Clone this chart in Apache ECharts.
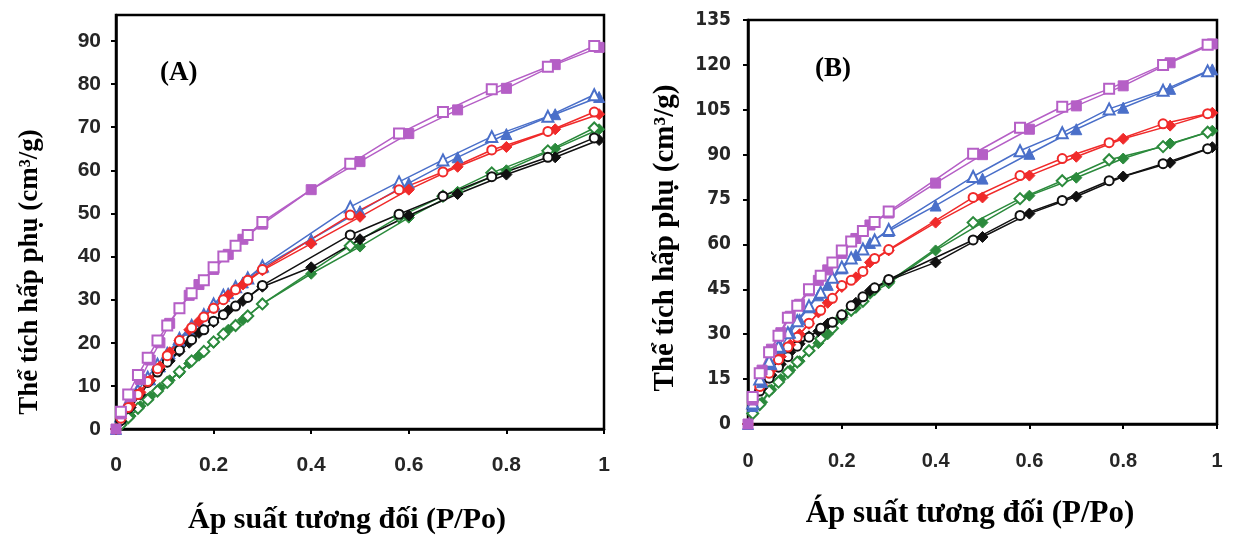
<!DOCTYPE html>
<html>
<head>
<meta charset="utf-8">
<script src="https://cdn.jsdelivr.net/npm/echarts@6/dist/echarts.min.js"></script>
<style>
  html, body { margin: 0; padding: 0; background: #ffffff; }
  #chart { width: 1234px; height: 538px; }
</style>
</head>
<body>
<div id="chart"></div>
<script>
// Relative pressure (P/Po) of the adsorption branch (filled markers)
const pressureAds = [0, 0.01, 0.03, 0.05, 0.07, 0.09, 0.11, 0.13, 0.15, 0.17, 0.2, 0.23, 0.26, 0.3, 0.4, 0.5, 0.6, 0.7, 0.8, 0.9, 0.99];
// Relative pressure of the desorption branch (open markers)
const pressureDes = [0.98, 0.885, 0.77, 0.67, 0.58, 0.48, 0.3, 0.27, 0.245, 0.22, 0.2, 0.18, 0.155, 0.13, 0.105, 0.085, 0.065, 0.045, 0.025, 0.01];

// Panel (A) adsorbed volume, cm3/g
const aPurpleAds = [0, 3.5, 7.5, 11.5, 16, 20, 24.5, 28, 31, 33.5, 37, 40.5, 44, 47.5, 55.5, 62, 68.5, 74, 79, 84.5, 88.5];
const aPurpleDes = [88.8, 84, 78.8, 73.5, 68.5, 61.5, 48, 45, 42.5, 40, 37.5, 34.5, 31.5, 28, 24, 20.5, 16.5, 12.5, 8, 4];
const aBlueAds = [0, 2.5, 5.5, 8.5, 11.5, 14.5, 17.5, 20.5, 23, 25, 28.5, 31.5, 34, 37.5, 44, 50.5, 57, 63, 68.4, 73, 77];
const aBlueDes = [77.5, 72.5, 67.8, 62.4, 57.3, 51.5, 37.8, 35, 33, 31, 29, 26.5, 24, 21, 17.5, 15, 12, 9, 6, 3];
const aRedAds = [0, 2.5, 5.5, 8.5, 11.3, 14.5, 17.8, 20.5, 23, 25, 28, 31, 33.5, 36.8, 43, 49.2, 55.5, 60.8, 65.4, 69.5, 73];
const aRedDes = [73.5, 69, 64.7, 59.6, 55.5, 49.6, 37, 34.5, 32.3, 30, 28, 26, 23.5, 20.5, 17, 14, 11, 8, 5, 2.5];
const aBlackAds = [0, 1.8, 5, 8, 11.2, 13.8, 15.8, 18, 20, 22.3, 24.8, 27.5, 29.7, 33, 37.5, 44, 49.5, 54.5, 59, 63, 67];
const aBlackDes = [67.5, 63, 58.5, 54, 49.8, 45, 33.3, 30.5, 28.5, 26.5, 25, 23, 20.7, 18.3, 15.5, 13.2, 10.8, 8, 4.8, 2];
const aGreenAds = [0, 1, 3, 5.3, 7.5, 9.5, 11.3, 13, 15.2, 17, 20, 23, 25.3, 29, 36, 42.3, 49, 55, 60, 65, 69.5];
const aGreenDes = [69.8, 64.5, 59.4, 54, 49.2, 42.5, 29, 26.2, 24, 22, 20.2, 18, 15.8, 13.3, 10.8, 8.8, 6.8, 4.8, 2.6, 1];

// Panel (B) adsorbed volume, cm3/g
const bPurpleAds = [0, 8, 18, 25, 30.5, 36, 40, 44.5, 48, 51.5, 57, 62, 66.5, 70.5, 80.5, 90, 98.5, 106.3, 113, 120.7, 127];
const bPurpleDes = [126.7, 120, 112, 106, 99, 90.3, 71, 67.5, 64.5, 61, 58, 54, 49.5, 45, 39.5, 35.5, 29.5, 24, 17, 9];
const bBlueAds = [0, 6, 14, 20, 25.5, 30.5, 35, 39, 43, 46.5, 52, 56.5, 60.5, 64.5, 73, 82, 90.3, 98.5, 105.7, 112, 118.5];
const bBlueDes = [118, 111.5, 105.3, 97.3, 91.3, 82.7, 65, 61.5, 58.5, 55.5, 52.5, 49, 44, 39.5, 34.5, 30.5, 26, 21, 15, 7];
const bRedAds = [0, 7, 13, 18, 22.5, 26.5, 30, 33.5, 37.3, 40.5, 45.8, 49, 54, 58, 67.3, 75.7, 83, 89.3, 95.3, 99.7, 104];
const bRedDes = [103.7, 100.3, 94, 88.7, 83, 75.7, 58.3, 55.3, 51, 48, 46.3, 42, 38, 33.7, 29, 25.7, 21.5, 17, 12.5, 7.5];
const bBlackAds = [0, 6, 12, 16.3, 20, 24, 26.8, 29.3, 31, 33.5, 36.3, 40.5, 44.5, 48, 54, 62.5, 70.3, 76, 82.7, 87.3, 92.5];
const bBlackDes = [92, 87, 81.3, 74.7, 69.7, 61.5, 48.3, 45.5, 42.5, 39.5, 36.5, 34, 32, 29, 26, 22.5, 19, 15.3, 11, 6.5];
const bGreenAds = [0, 3.7, 7.3, 11.5, 15, 18, 21, 24.3, 27, 30, 35, 38.8, 43.5, 47, 58, 67.3, 76.3, 82.3, 88.7, 93.7, 98];
const bGreenDes = [97.5, 92.7, 88.3, 81.3, 75.3, 67.3, 47.5, 45, 41, 38, 35.7, 32, 28.5, 24.5, 20.7, 17.3, 14, 11, 6.5, 3.5];

// Axis tick values
const xTicks = [0, 0.2, 0.4, 0.6, 0.8, 1];
const yTicksA = [0, 10, 20, 30, 40, 50, 60, 70, 80, 90];
const yTicksB = [0, 15, 30, 45, 60, 75, 90, 105, 120, 135];

// Text
const panelLabels = ['(A)', '(B)'];
const xTitle = 'Áp suất tương đối (P/Po)';
const yTitle = 'Thể tích hấp phụ (cm³/g)';

const PURPLE = '#b55fc6';
const BLUE = '#4a6fc9';
const RED = '#f02a2a';
const GREEN = '#2b8a3c';
const BLACK = '#111111';

function pairs(xs, ys) {
  return xs.map((x, i) => [x, ys[i]]);
}

function branch(grid, color, symbol, size, xs, ys, open) {
  return {
    type: 'line',
    xAxisIndex: grid,
    yAxisIndex: grid,
    data: pairs(xs, ys),
    symbol: symbol,
    symbolSize: size,
    showAllSymbol: true,
    animation: false,
    lineStyle: { color: color, width: 1.5 },
    itemStyle: open
      ? { color: '#ffffff', borderColor: color, borderWidth: 2 }
      : { color: color, borderColor: color, borderWidth: 1 },
    emphasis: { disabled: true }
  };
}

function isotherm(grid, color, fillSym, openSym, fillSize, openSize, ads, des) {
  return [
    branch(grid, color, fillSym, fillSize, pressureAds, ads, false),
    branch(grid, color, openSym, openSize, pressureDes, des, true)
  ];
}

const tickFont = {
  fontFamily: 'Liberation Sans, Arial, sans-serif',
  fontWeight: 'bold',
  color: '#262626'
};

function xAxisFor(grid, size, margin) {
  return {
    type: 'value',
    gridIndex: grid,
    min: 0, max: 1, interval: 0.2,
    axisLine: { show: true, onZero: false, lineStyle: { color: '#000', width: 2.5 } },
    axisTick: { show: true, inside: false, length: 5, lineStyle: { color: '#000', width: 2 }, customValues: xTicks },
    axisLabel: Object.assign({ fontSize: size, margin: margin, customValues: xTicks }, tickFont),
    splitLine: { show: false }
  };
}

function yAxisFor(grid, max, interval, ticks, labelStyle) {
  return {
    type: 'value',
    gridIndex: grid,
    min: 0, max: max, interval: interval,
    axisLine: { show: true, onZero: false, lineStyle: { color: '#000', width: 2.5 } },
    axisTick: { show: true, inside: false, length: 5, lineStyle: { color: '#000', width: 2 }, customValues: ticks },
    axisLabel: Object.assign({ customValues: ticks }, tickFont, labelStyle),
    splitLine: { show: false }
  };
}

const titleFont = 'Liberation Serif, Times New Roman, serif';

const option = {
  backgroundColor: '#ffffff',
  animation: false,
  grid: [
    { left: 116, top: 15, width: 488, height: 414, show: true, borderColor: '#000', borderWidth: 2.5, containLabel: false },
    { left: 748, top: 20, width: 469, height: 404, show: true, borderColor: '#000', borderWidth: 2.5, containLabel: false }
  ],
  xAxis: [
    xAxisFor(0, 21, 26),
    xAxisFor(1, 20, 27)
  ],
  yAxis: [
    yAxisFor(0, 96, 10, yTicksA, { fontSize: 21, margin: 15 }),
    // narrow digits on the right-hand panel
    yAxisFor(1, 135, 15, yTicksB, { fontSize: 19, margin: 17, fontWeight: 'bold condensed', fontFamily: 'DejaVu Sans' })
  ],
  series: [].concat(
    isotherm(0, BLUE, 'triangle', 'triangle', 11, 11, aBlueAds, aBlueDes),
    isotherm(0, GREEN, 'diamond', 'diamond', 11, 11, aGreenAds, aGreenDes),
    isotherm(0, BLACK, 'diamond', 'circle', 11, 9, aBlackAds, aBlackDes),
    isotherm(0, RED, 'diamond', 'circle', 11, 9, aRedAds, aRedDes),
    isotherm(0, PURPLE, 'rect', 'rect', 10, 10, aPurpleAds, aPurpleDes),
    isotherm(1, GREEN, 'diamond', 'diamond', 11, 11, bGreenAds, bGreenDes),
    isotherm(1, BLACK, 'diamond', 'circle', 11, 9, bBlackAds, bBlackDes),
    isotherm(1, RED, 'diamond', 'circle', 11, 9, bRedAds, bRedDes),
    isotherm(1, BLUE, 'triangle', 'triangle', 11, 11, bBlueAds, bBlueDes),
    isotherm(1, PURPLE, 'rect', 'rect', 10, 10, bPurpleAds, bPurpleDes)
  ),
  graphic: [
    { type: 'text', left: 160, top: 60, style: { text: panelLabels[0], font: 'bold 27px ' + titleFont, fill: '#000' } },
    { type: 'text', left: 815, top: 56, style: { text: panelLabels[1], font: 'bold 27px ' + titleFont, fill: '#000' } },
    { type: 'text', x: 347, y: 520, style: { text: xTitle, font: 'bold 30px ' + titleFont, fill: '#000', align: 'center', verticalAlign: 'middle' } },
    { type: 'text', x: 970, y: 514, style: { text: xTitle, font: 'bold 31px ' + titleFont, fill: '#000', align: 'center', verticalAlign: 'middle' } },
    { type: 'text', x: 30, y: 272, rotation: Math.PI / 2, style: { text: yTitle, font: 'bold 27px ' + titleFont, fill: '#000', align: 'center', verticalAlign: 'middle' } },
    { type: 'text', x: 666, y: 238, rotation: Math.PI / 2, style: { text: yTitle, font: 'bold 29px ' + titleFont, fill: '#000', align: 'center', verticalAlign: 'middle' } }
  ]
};

const chart = echarts.init(document.getElementById('chart'), null, { renderer: 'canvas' });
chart.setOption(option);
</script>
</body>
</html>
